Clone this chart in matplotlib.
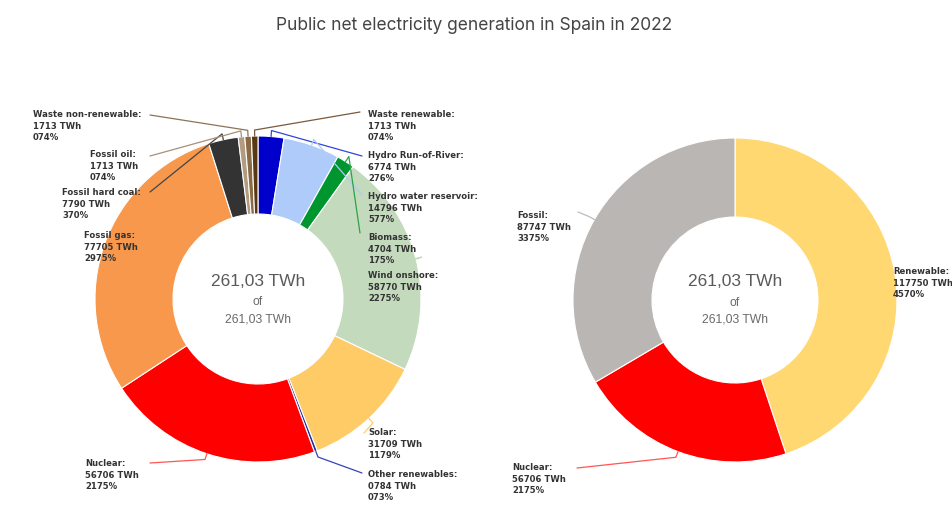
import numpy as np
import matplotlib.pyplot as plt

W, H = 953, 506

# detailed breakdown, clockwise from 12 o'clock (TWh, share in %)
src_names = ['Hydro Run-of-River', 'Hydro water reservoir', 'Biomass', 'Wind onshore',
             'Solar', 'Other renewables', 'Nuclear', 'Fossil gas', 'Fossil hard coal',
             'Fossil oil', 'Waste non-renewable', 'Waste renewable']
src_twh = [6.774, 14.796, 4.704, 58.770, 31.709, 0.784, 56.706, 77.705, 7.790,
           1.713, 1.713, 1.713]
src_pct = [2.76, 5.77, 1.75, 22.75, 11.79, 0.73, 21.75, 29.75, 3.70, 0.74, 0.74, 0.74]
src_colors = ['#0000cc', '#aecbfa', '#00962f', '#c4dabd', '#ffcb66', '#1f2fa0',
              '#ff0000', '#f7984c', '#333333', '#b39b80', '#8a6a45', '#5a3812']

# grouped breakdown
grp_names = ['Renewable', 'Nuclear', 'Fossil']
grp_twh = [117.750, 56.706, 87.747]
grp_pct = [45.70, 21.75, 33.75]
grp_colors = ['#ffd872', '#ff0000', '#bab6b3']

total_twh = 261.03


def num(v, d):
    # numbers are printed without the decimal mark
    return f'{v:.{d}f}'.replace('.', '')


def label(name, v, p):
    return f'{name}:\n{num(v, 3)} TWh\n{num(p, 2)}%'


fig = plt.figure(figsize=(W / 100, H / 100), dpi=100)
ax = fig.add_axes([0, 0, 1, 1])

txt = dict(fontsize=6.1, fontweight='bold', color='#333333', va='top', ha='left',
           family='DejaVu Sans', linespacing=1.38)


def donut(center, r, width, vals, colors):
    wedges, _ = ax.pie(vals, colors=colors, center=center, radius=r, startangle=90,
                       counterclock=False, frame=True,
                       wedgeprops=dict(width=width, edgecolor='white', linewidth=0.8))
    return wedges


def leader(w, center, r, end, color):
    a = np.deg2rad((w.theta1 + w.theta2) / 2)
    p0 = (center[0] + r * np.cos(a), center[1] + r * np.sin(a))
    p1 = (center[0] + (r + 6) * np.cos(a), center[1] + (r + 6) * np.sin(a))
    ax.plot([p0[0], p1[0], end[0]], [p0[1], p1[1], H - end[1]], color=color, lw=0.9,
            solid_capstyle='round', zorder=3)


def center_text(cx, cy):
    t = f'{total_twh:.2f}'.replace('.', ',') + ' TWh'
    ax.text(cx, cy + 19, t, fontsize=12.5, color='#5a5a5a', ha='center', va='center',
            family='Liberation Sans')
    ax.text(cx, cy - 2, 'of', fontsize=8.7, color='#6a6a6a', ha='center', va='center',
            family='Liberation Sans')
    ax.text(cx, cy - 19, t, fontsize=8.7, color='#6a6a6a', ha='center', va='center',
            family='Liberation Sans')


# left donut
c1 = (258, H - 300)
r1 = 163
w1 = donut(c1, r1, 78, src_twh, src_colors)

# text position (left, top) and leader end, in pixels from the top-left corner
src_layout = [
    ((368, 151), (362, 157), '#3344dd'),
    ((368, 192), (362, 196), '#aecbfa'),
    ((368, 233), (360, 234), '#2aa34a'),
    ((368, 271), (366, 276), '#c4dabd'),
    ((368, 428), (364, 434), '#ffcb66'),
    ((368, 470), (362, 474), '#3344bb'),
    ((85, 459), (150, 464), '#ff5555'),
    ((84, 231), None, None),
    ((62, 188), (150, 193), '#444444'),
    ((90, 150), (150, 157), '#a89078'),
    ((33, 110), (150, 116), '#8c7355'),
    ((368, 110), (360, 113), '#7a5a3a'),
]
for w, n, v, p, (pos, end, lc) in zip(w1, src_names, src_twh, src_pct, src_layout):
    ax.text(pos[0], H - pos[1], label(n, v, p), zorder=4, **txt)
    if end is not None:
        leader(w, c1, r1, end, lc)
center_text(*c1)

# right donut
c2 = (735, H - 301)
r2 = 162
w2 = donut(c2, r2, 79, grp_twh, grp_colors)

grp_layout = [
    ((893, 267), None, None),
    ((512, 463), (577, 469), '#ff5555'),
    ((517, 211), (578, 213), '#bbbbbb'),
]
for w, n, v, p, (pos, end, lc) in zip(w2, grp_names, grp_twh, grp_pct, grp_layout):
    ax.text(pos[0], H - pos[1], label(n, v, p), zorder=4, **txt)
    if end is not None:
        leader(w, c2, r2, end, lc)
center_text(*c2)

ax.set_xlim(0, W)
ax.set_ylim(0, H)
ax.set_aspect('auto')
ax.axis('off')

fig.text(474 / W, 1 - 25 / H, 'Public net electricity generation in Spain in 2022',
         fontsize=12.5, color='#444444', ha='center', va='center', family='Inter')

fig.savefig('out.png', dpi=100)
